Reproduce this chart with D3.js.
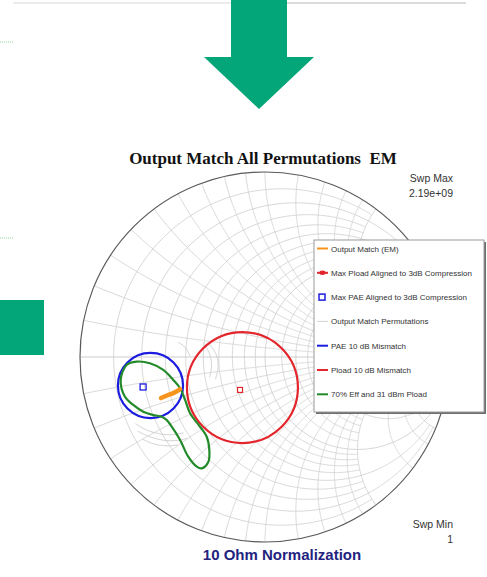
<!DOCTYPE html>
<html>
<head>
<meta charset="utf-8">
<script src="https://cdn.jsdelivr.net/npm/d3@7"></script>
<style>
  html, body { margin: 0; padding: 0; background: #fff; }
  svg { display: block; }
  text { white-space: pre; }
</style>
</head>
<body>
<svg id="chart" width="487" height="577"></svg>
<script>
// ---- data (reflection coefficient plane, Γ = re + j·im) ----
const titleText = "Output Match All Permutations  EM";
const footText = "10 Ohm Normalization";
const sweepMax = ["Swp Max", "2.19e+09"];
const sweepMin = ["Swp Min", "1"];

const legendLabels = [
  "Output Match (EM)",
  "Max Pload Aligned to 3dB Compression",
  "Max PAE Aligned to 3dB Compression",
  "Output Match Permutations",
  "PAE 10 dB Mismatch",
  "Pload 10 dB Mismatch",
  "70% Eff and 31 dBm Pload"
];

// resistance circles and the reactance span each one is drawn over
const gridR = [0.1, 0.2, 0.3, 0.4, 0.5, 0.6, 0.7, 0.8, 0.9, 1, 1.2, 1.4, 1.6, 1.8, 2, 3, 4, 5, 10, 20];
const gridRSpan = [2, 5, 2, 2, 5, 2, 2, 2, 2, Infinity, 2, 2, 2, 2, 10, 5, 5, 20, 20, Infinity];
// reactance arcs and the resistance span each one is drawn over
const gridX = [0.1, 0.2, 0.3, 0.4, 0.5, 0.6, 0.7, 0.8, 0.9, 1, 1.2, 1.4, 1.6, 1.8, 2, 3, 4, 5, 10, 20];
const gridXSpan = [2, 5, 2, 2, 5, 2, 2, 2, 2, Infinity, 2, 2, 2, 2, 10, 5, 5, 20, 20, Infinity];

// Output Match (EM) trace
const emRe = [-0.562, -0.540, -0.518, -0.496, -0.474, -0.459];
const emIm = [-0.222, -0.212, -0.203, -0.195, -0.184, -0.173];

// optimum points
const maxPload = [-0.135, -0.178];
const maxPAE = [-0.659, -0.162];

// mismatch circles: centre re, centre im, radius
const paeCircle = [-0.619, -0.154, 0.176];
const ploadCircle = [-0.122, -0.165, 0.300];

// 70% efficiency / 31 dBm Pload contour
const effRe = [-0.780, -0.748, -0.694, -0.622, -0.550, -0.496, -0.459, -0.432, -0.405, -0.351, -0.315, -0.301,
               -0.306, -0.342, -0.369, -0.415, -0.459, -0.504, -0.531, -0.558, -0.604, -0.658, -0.712, -0.757, -0.780];
const effIm = [-0.124, -0.043, -0.025, -0.034, -0.070, -0.124, -0.169, -0.232, -0.304, -0.377, -0.431, -0.503,
               -0.566, -0.602, -0.593, -0.539, -0.449, -0.377, -0.341, -0.323, -0.314, -0.296, -0.259, -0.215, -0.169];

// output match permutation traces
const permRe = [
  [-0.335, -0.310, -0.292, -0.290, -0.300],
  [-0.300, -0.272, -0.255, -0.255, -0.268],
  [-0.470, -0.440, -0.420, -0.405],
  [-0.700, -0.640, -0.570, -0.500, -0.440],
  [-0.690, -0.620, -0.550, -0.480, -0.420],
  [-0.660, -0.600, -0.530, -0.470]
];
const permIm = [
  [0.080, 0.040, -0.010, -0.060, -0.110],
  [0.070, 0.030, -0.020, -0.070, -0.120],
  [0.080, 0.060, 0.035, 0.005],
  [-0.360, -0.395, -0.415, -0.420, -0.410],
  [-0.400, -0.432, -0.450, -0.452, -0.440],
  [-0.445, -0.470, -0.480, -0.475]
];

// ---- layout ----
const svg = d3.select("#chart");
const cx = 265, cy = 357, R = 185;
const sx = d3.scaleLinear().domain([-1, 1]).range([cx - R, cx + R]);
const sy = d3.scaleLinear().domain([-1, 1]).range([cy + R, cy - R]);
const sr = d3.scaleLinear().domain([0, 1]).range([0, R]);
const line = d3.line().x(d => sx(d[0])).y(d => sy(d[1]));

const green = "#03a678";

// page decoration above the chart
svg.append("line").attr("x1", 13).attr("x2", 231).attr("y1", 3).attr("y2", 3)
  .attr("stroke", "#e6e6e6").attr("stroke-width", 1.5);
svg.append("line").attr("x1", 287).attr("x2", 466).attr("y1", 3).attr("y2", 3)
  .attr("stroke", "#cfcfcf").attr("stroke-width", 1.5);
svg.append("path")
  .attr("d", "M231,0 L287,0 L287,57 L314,57 L259,109 L204,57 L231,57 Z")
  .attr("fill", green);
svg.append("rect").attr("x", 0).attr("y", 300).attr("width", 44).attr("height", 55).attr("fill", green);
[42, 238].forEach(yy => {
  svg.append("line").attr("x1", 0).attr("x2", 14).attr("y1", yy).attr("y2", yy)
    .attr("stroke", "#8fd89a").attr("stroke-width", 1).attr("stroke-dasharray", "1,1");
});

// ---- Smith chart grid ----
function zToGamma(r, x) {
  const d = (r + 1) * (r + 1) + x * x;
  return [(r * r + x * x - 1) / d, 2 * x / d];
}
const grid = svg.append("g").attr("fill", "none").attr("stroke", "#d0d0d0").attr("stroke-width", 0.85);

gridR.forEach((r, i) => {
  const span = gridRSpan[i];
  if (!isFinite(span)) {
    grid.append("circle")
      .attr("cx", sx(r / (r + 1))).attr("cy", sy(0)).attr("r", sr(1 / (r + 1)));
  } else {
    const pts = d3.range(0, 401).map(k => zToGamma(r, -span + 2 * span * k / 400));
    grid.append("path").attr("d", line(pts));
  }
});
gridX.forEach((x, i) => {
  const span = gridXSpan[i];
  [1, -1].forEach(sgn => {
    const pts = d3.range(0, 401).map(k => {
      const t = k / 400;
      const r = isFinite(span) ? span * t : (t < 1 ? t / (1 - t) : 1e9);
      return zToGamma(r, sgn * x);
    });
    grid.append("path").attr("d", line(pts));
  });
});
// real axis
grid.append("line").attr("x1", sx(-1)).attr("x2", sx(1)).attr("y1", sy(0)).attr("y2", sy(0))
  .attr("stroke", "#c4c4c4");
// outer boundary
svg.append("circle").attr("cx", sx(0)).attr("cy", sy(0)).attr("r", sr(1))
  .attr("fill", "none").attr("stroke", "#5a5a5a").attr("stroke-width", 1.2);

// ---- traces ----
const traces = svg.append("g").attr("fill", "none");
permRe.forEach((re, i) => {
  traces.append("path")
    .attr("d", d3.line().curve(d3.curveCatmullRom).x(d => sx(d[0])).y(d => sy(d[1]))(re.map((v, k) => [v, permIm[i][k]])))
    .attr("stroke", "#c8c8c8").attr("stroke-width", 0.8);
});

traces.append("circle")
  .attr("cx", sx(ploadCircle[0])).attr("cy", sy(ploadCircle[1])).attr("r", sr(ploadCircle[2]))
  .attr("stroke", "#e3262c").attr("stroke-width", 2.2);
traces.append("circle")
  .attr("cx", sx(paeCircle[0])).attr("cy", sy(paeCircle[1])).attr("r", sr(paeCircle[2]))
  .attr("stroke", "#1c1ce0").attr("stroke-width", 2.2);
traces.append("path")
  .attr("d", d3.line().curve(d3.curveCatmullRomClosed).x(d => sx(d[0])).y(d => sy(d[1]))(effRe.slice(0, -1).map((v, k) => [v, effIm[k]])))
  .attr("stroke", "#238a2a").attr("stroke-width", 2.2);
traces.append("path")
  .attr("d", line(emRe.map((v, k) => [v, emIm[k]])))
  .attr("stroke", "#f7941d").attr("stroke-width", 4.5).attr("stroke-linecap", "round");

traces.append("rect")
  .attr("x", sx(maxPload[0]) - 2.5).attr("y", sy(maxPload[1]) - 2.5).attr("width", 5).attr("height", 5)
  .attr("stroke", "#e3262c").attr("stroke-width", 1.2);
traces.append("rect")
  .attr("x", sx(maxPAE[0]) - 3).attr("y", sy(maxPAE[1]) - 3).attr("width", 6).attr("height", 6)
  .attr("stroke", "#1c1ce0").attr("stroke-width", 1.3);

// ---- text ----
svg.append("text").attr("x", 263).attr("y", 164).attr("text-anchor", "middle")
  .attr("font-family", "Liberation Serif, Times New Roman, serif").attr("font-weight", "bold")
  .attr("font-size", 17).attr("fill", "#111").text(titleText);

const sans = "Liberation Sans, Arial, sans-serif";
[[sweepMax, 182], [sweepMin, 528]].forEach(([lines, y0]) => {
  lines.forEach((t, i) => {
    svg.append("text").attr("x", 453).attr("y", y0 + i * 14.5).attr("text-anchor", "end")
      .attr("font-family", sans).attr("font-size", 10.5).attr("fill", "#333").text(t);
  });
});
svg.append("text").attr("x", 282).attr("y", 560).attr("text-anchor", "middle")
  .attr("font-family", sans).attr("font-weight", "bold").attr("font-size", 15)
  .attr("fill", "#23237f").text(footText);

// ---- legend ----
const lg = svg.append("g").attr("transform", "translate(314,240)");
const lw = 170, lh = 172;
lg.append("rect").attr("x", 2).attr("y", 2).attr("width", lw).attr("height", lh).attr("fill", "#6e6e6e");
lg.append("rect").attr("x", 0).attr("y", 0).attr("width", lw).attr("height", lh)
  .attr("fill", "#fff").attr("stroke", "#9a9a9a").attr("stroke-width", 1);
const legColors = ["#f7941d", "#e3262c", "#1c1ce0", "#c8c8c8", "#1c1ce0", "#e3262c", "#238a2a"];
legendLabels.forEach((lab, i) => {
  const y = 8.5 + i * 24.3;
  const row = lg.append("g").attr("transform", `translate(0,${y})`);
  if (i === 2) {
    row.append("rect").attr("x", 5).attr("y", -3).attr("width", 6).attr("height", 6)
      .attr("fill", "none").attr("stroke", legColors[i]).attr("stroke-width", 1.5);
  } else {
    row.append("line").attr("x1", 3).attr("x2", 14).attr("y1", 0).attr("y2", 0)
      .attr("stroke", legColors[i]).attr("stroke-width", i === 3 ? 0.8 : 2);
    if (i === 1) {
      row.append("ellipse").attr("cx", 8.5).attr("cy", 0).attr("rx", 3).attr("ry", 2.2).attr("fill", legColors[i]);
    }
  }
  row.append("text").attr("x", 17).attr("y", 3).attr("font-family", sans).attr("font-size", 8)
    .attr("fill", "#333").text(lab);
});
</script>
</body>
</html>
